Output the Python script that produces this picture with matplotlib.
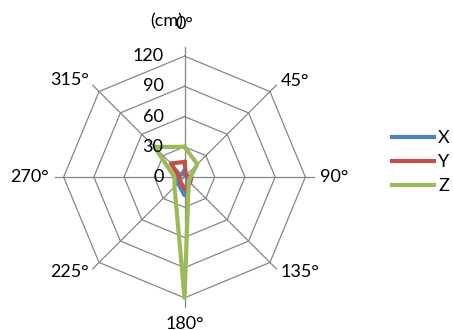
import numpy as np
import matplotlib
matplotlib.use("Agg")
import matplotlib.pyplot as plt

plt.rcParams['font.family'] = ['Lato', 'DejaVu Sans']

# Direction categories (degrees) and measured displacement per axis (cm)
directions = [0, 45, 90, 135, 180, 225, 270, 315]
direction_labels = ["0°", "45°", "90°", "135°", "180°", "225°", "270°", "315°"]
x_values = [6, 2, 3, 5, 18, 9, 8, 4]
y_values = [15, 2, 7, 8, 12, 6, 5, 19]
z_values = [30, 18, 6, 6, 120, 14, 10, 42]
radial_ticks = [0, 30, 60, 90, 120]

series = [("X", x_values, "#4F81BD"),
          ("Y", y_values, "#C0504D"),
          ("Z", z_values, "#9BBB59")]

fig = plt.figure(figsize=(4.53, 3.30), dpi=100)
ax = fig.add_axes([43.5 / 453, 12 / 330, 282 / 453, 282 / 330], projection="polar")
ax.set_theta_zero_location("N")
ax.set_theta_direction(-1)
ax.set_ylim(0, 140)
ax.set_axis_off()

theta = np.deg2rad(directions)
theta_closed = np.append(theta, theta[0])

grid_color = "#868686"
# octagonal rings
for r in radial_ticks[1:]:
    ax.plot(theta_closed, [r] * len(theta_closed), color=grid_color, lw=0.9, zorder=1)
# spokes
for t in theta:
    ax.plot([t, t], [0, 129], color=grid_color, lw=0.9, zorder=1)

# data series
for name, vals, col in series:
    v = np.append(vals, vals[0])
    ax.plot(theta_closed, v, color=col, lw=3.0, label=name, zorder=3,
            solid_joinstyle="round")

fs = 13
# radial value labels beside the 0° spoke
for r in radial_ticks:
    ax.annotate(str(r), xy=(0, r), xytext=(-21, 0), textcoords="offset pixels",
                ha="right", va="center", fontsize=fs, color="black")
ax.annotate("(cm)", xy=(0, 120), xytext=(-1, 35), textcoords="offset pixels",
            ha="right", va="center", fontsize=fs, color="black")

# direction labels around the outer ring
offsets = {
    0: (0, 32, "center"),
    45: (11, 11, "left"),
    90: (15, 0, "left"),
    135: (11, -10, "left"),
    180: (0, -26, "center"),
    225: (-10, -10, "right"),
    270: (-15, 0, "right"),
    315: (-10, 12, "right"),
}
for d, lab in zip(directions, direction_labels):
    dx, dy, ha = offsets[d]
    ax.annotate(lab, xy=(np.deg2rad(d), 120), xytext=(dx, dy),
                textcoords="offset pixels", ha=ha, va="center",
                fontsize=fs, color="black")

fig.legend(loc="center left", bbox_to_anchor=(392 / 453, 1 - 162 / 330),
           frameon=False, fontsize=fs, handlelength=2.3, handletextpad=0.25,
           labelspacing=0.45, borderpad=0, borderaxespad=0)

fig.savefig("out.png", dpi=100, facecolor="white")
